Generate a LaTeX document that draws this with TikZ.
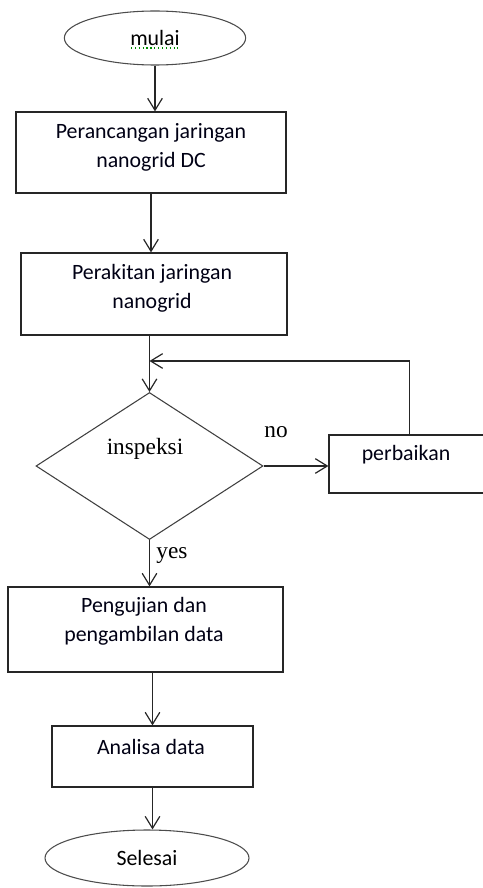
\documentclass[tikz,border=0pt]{standalone}
\usepackage{fontspec}
\setmainfont{Carlito}
\newfontfamily\serifface{Liberation Serif}
\usetikzlibrary{arrows.meta,shapes.geometric}

\begin{document}
\begin{tikzpicture}[
  x=0.75pt, y=-0.75pt,
  >={Straight Barb[length=9pt,width=11pt]},
  flow/.style={->, line width=0.9pt, draw=black!85},
  stepbox/.style={rectangle, draw=black!85, line width=0.9pt, inner sep=0pt},
  terminal/.style={ellipse, draw=black!70, line width=0.8pt, inner sep=0pt,
    font=\fontsize{16.4}{22}\selectfont},
  decision/.style={diamond, draw=black!75, line width=0.8pt, inner sep=0pt},
  boxtext/.style={font=\fontsize{16.4}{22}\selectfont, align=center, text=black!92!blue},
  choice/.style={font=\serifface\fontsize{17.5}{20}\selectfont, text=black}
]

\useasboundingbox (0,0) rectangle (482,888);

% start
\node[terminal, minimum width=136pt, minimum height=40.5pt] (start) at (155,38) {mulai};
\draw[green!55!black, dotted, line width=0.9pt] (131,48) -- (178,48);

% process steps
\node[stepbox, minimum width=202.5pt, minimum height=60.75pt] (design) at (151,152.5) {};
\node[boxtext] (designtext) at (151,147.5) {Perancangan jaringan\\nanogrid DC};

\node[stepbox, minimum width=199.5pt, minimum height=61.5pt] (build) at (154,294) {};
\node[boxtext] (buildtext) at (152,288.5) {Perakitan jaringan\\nanogrid};

% inspection and repair loop
\coordinate (merge) at (149.5,361);

\node[decision, minimum width=170.25pt, minimum height=110.25pt] (dec) at (149.5,466) {};
\node[choice] (dectext) at (145,449) {inspeksi};
\node[choice] (notext) at (276,432) {no};
\node[choice] (yestext) at (172,556) {yes};

\node[stepbox, minimum width=120.75pt, minimum height=43.5pt] (fix) at (409.5,464) {};
\node[boxtext] (fixtext) at (406,455) {perbaikan};

\node[stepbox, minimum width=206.25pt, minimum height=63.75pt] (test) at (145.5,629.5) {};
\node[boxtext] (testtext) at (144,621) {Pengujian dan\\pengambilan data};

\node[stepbox, minimum width=150.75pt, minimum height=45.75pt] (anal) at (152.5,756.5) {};
\node[boxtext] (analtext) at (151,747) {Analisa data};

% end
\node[terminal, minimum width=153pt, minimum height=42pt] (end) at (147,858) {Selesai};

\draw[flow] (start.south) -- (start.south |- design.north);
\draw[flow] (design.south) -- (design.south |- build.north);
\draw[flow] (build.south -| dec.north) -- (dec.north);
\draw[flow] (fix.north) |- (merge);
\draw[flow] (dec.east) -- (dec.east -| fix.west);
\draw[flow] (dec.south) -- (dec.south |- test.north);
\draw[flow] (test.south -| anal.north) -- (anal.north);
\draw[flow] (anal.south) -- (anal.south |- end.north);

\end{tikzpicture}
\end{document}
